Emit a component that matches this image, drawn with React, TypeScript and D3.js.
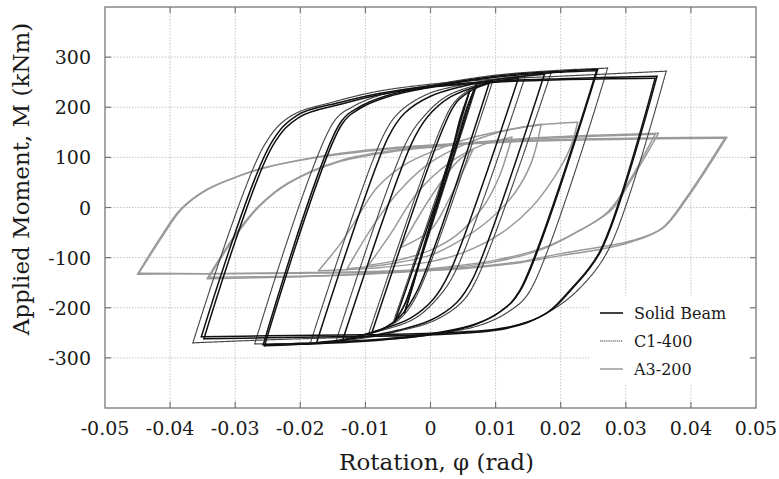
import React from "react";
import * as d3 from "d3";

type Pt = [number, number];

// x: rotation (rad), y: moment (kNm)
const xTicks = [-0.05, -0.04, -0.03, -0.02, -0.01, 0, 0.01, 0.02, 0.03, 0.04, 0.05];
const xTickLabels = ["-0.05", "-0.04", "-0.03", "-0.02", "-0.01", "0", "0.01", "0.02", "0.03", "0.04", "0.05"];
const yTicks = [-300, -200, -100, 0, 100, 200, 300];
const yTickLabels = ["-300", "-200", "-100", "0", "100", "200", "300"];

const seriesNames = ["Solid Beam", "C1-400", "A3-200"];

const solidBeamCycles: Pt[][] = [
  [[-0.0352,-258],[-0.0245,128],[-0.0205,184],[-0.0138,210],[-0.0077,228],[0,242],[0.01,252],[0.02,257],[0.0348,262],
   [0.0262,-86],[0.0215,-166],[0.0185,-205],[0.015,-228],[0.01,-243],[0,-251],[-0.01,-254],[-0.025,-256],[-0.0352,-258]],
  [[-0.0348,-262],[-0.0242,124],[-0.0202,180],[-0.0135,207],[-0.0075,226],[0,240],[0.01,250],[0.02,255],[0.0345,258],
   [0.026,-88],[0.0212,-168],[0.0182,-207],[0.0148,-230],[0.01,-245],[0,-254],[-0.01,-257],[-0.025,-260],[-0.0348,-262]],
  [[-0.0257,-274],[-0.0138,170],[-0.011,200],[-0.007,222],[0,242],[0.01,262],[0.02,272],[0.0257,276],
   [0.0138,-166],[0.011,-205],[0.007,-232],[0,-252],[-0.01,-265],[-0.02,-271],[-0.0257,-274]],
  [[-0.0255,-276],[-0.0136,166],[-0.0108,198],[-0.0068,220],[0,240],[0.01,260],[0.02,270],[0.0255,273],
   [0.0136,-168],[0.0108,-207],[0.0068,-234],[0,-254],[-0.01,-267],[-0.02,-273],[-0.0255,-276]],
  [[-0.0175,-270],[-0.0065,140],[-0.004,188],[0,222],[0.005,242],[0.01,255],[0.0175,266],
   [0.0065,-142],[0.004,-190],[0,-225],[-0.005,-245],[-0.01,-258],[-0.0175,-270]],
  [[-0.0135,-265],[-0.003,125],[-0.0005,180],[0.003,220],[0.008,245],[0.0135,258],
   [0.003,-128],[0.0005,-182],[-0.003,-220],[-0.008,-245],[-0.0135,-265]],
  [[-0.009,-250],[0.002,160],[0.004,210],[0.0065,235],[0.009,248],
   [-0.002,-165],[-0.0045,-215],[-0.0068,-238],[-0.009,-250]],
  [[-0.0055,-228],[0.0045,150],[0.0058,205],[0.007,245],
   [-0.0025,-140],[-0.004,-195],[-0.0055,-228]],
  [[-0.004,-210],[0.003,95],[0.0045,175],[0.006,232],
   [-0.001,-75],[-0.0028,-160],[-0.004,-210]],
];

const c1400Cycles: Pt[][] = [
  [[-0.0365,-270],[-0.0255,125],[-0.0215,182],[-0.0145,212],[-0.008,232],[0,246],[0.01,256],[0.02,262],[0.0362,272],
   [0.0275,-80],[0.023,-160],[0.019,-202],[0.015,-228],[0.01,-244],[0,-253],[-0.01,-258],[-0.025,-264],[-0.0365,-270]],
  [[-0.027,-272],[-0.0148,172],[-0.0118,202],[-0.0075,225],[0,244],[0.01,264],[0.02,274],[0.0272,278],
   [0.0152,-168],[0.0122,-206],[0.0078,-234],[0,-254],[-0.01,-266],[-0.02,-271],[-0.027,-272]],
  [[-0.0185,-272],[-0.0073,142],[-0.0048,190],[-0.0005,226],[0.005,245],[0.0105,257],[0.0185,268],
   [0.0072,-140],[0.0047,-190],[0.0005,-226],[-0.005,-247],[-0.011,-262],[-0.0185,-272]],
  [[-0.0145,-266],[-0.0038,128],[-0.001,182],[0.0025,222],[0.008,247],[0.0145,260],
   [0.0038,-128],[0.001,-182],[-0.0025,-222],[-0.008,-247],[-0.0145,-266]],
  [[-0.0095,-252],[0.0017,162],[0.0038,212],[0.0065,238],[0.0095,250],
   [-0.0018,-167],[-0.0043,-217],[-0.0068,-240],[-0.0095,-252]],
  [[-0.0058,-232],[0.0043,150],[0.0058,208],[0.0072,248],
   [-0.0025,-142],[-0.0042,-198],[-0.0058,-232]],
];

const a3200Cycles: Pt[][] = [
  [[-0.045,-133],[-0.0415,-60],[-0.0385,-5],[-0.0345,35],[-0.03,60],[-0.026,78],[-0.02,95],[-0.0138,108],[-0.005,120],
   [0.005,128],[0.015,134],[0.025,137],[0.035,139],[0.0455,140],
   [0.0395,20],[0.0358,-40],[0.031,-66],[0.0257,-80],[0.02,-92],[0.0138,-108],[0.005,-120],[-0.005,-126],[-0.02,-130],[-0.035,-132],[-0.045,-133]],
  [[-0.0448,-131],[-0.0412,-58],[-0.0382,-3],[-0.0342,36],[-0.0298,61],[-0.0258,78],[-0.02,94],[-0.0138,106],[-0.005,118],
   [0.005,126],[0.015,132],[0.025,135],[0.035,137],[0.0452,138],
   [0.0392,18],[0.0355,-42],[0.0305,-70],[0.025,-86],[0.02,-96],[0.0138,-110],[0.005,-122],[-0.005,-128],[-0.02,-131],[-0.035,-132],[-0.0448,-131]],
  [[-0.0343,-142],[-0.0303,-60],[-0.0266,0],[-0.022,48],[-0.0138,94],[-0.005,115],[0.005,128],[0.015,138],[0.025,144],[0.035,148],
   [0.0308,54],[0.0277,-6],[0.022,-52],[0.0174,-80],[0.01,-105],[0,-122],[-0.01,-132],[-0.02,-138],[-0.0343,-142]],
  [[-0.034,-139],[-0.03,-58],[-0.0263,2],[-0.0218,48],[-0.0138,92],[-0.005,113],[0.005,126],[0.015,136],[0.025,142],[0.0345,146],
   [0.0305,52],[0.0273,-8],[0.0218,-54],[0.017,-84],[0.01,-108],[0,-124],[-0.01,-133],[-0.02,-137],[-0.034,-139]],
  [[-0.0172,-126],[-0.014,-75],[-0.0118,-32],[-0.0082,40],[-0.004,85],[0,110],[0.006,138],[0.012,155],[0.017,165],[0.0226,170],
   [0.0215,120],[0.019,60],[0.0155,0],[0.011,-50],[0.005,-90],[0,-108],[-0.008,-120],[-0.0172,-126]],
  [[-0.0128,-122],[-0.009,-40],[-0.005,30],[0,90],[0.006,130],[0.012,155],[0.017,166],
   [0.0155,90],[0.013,30],[0.009,-25],[0.004,-70],[0,-95],[-0.006,-112],[-0.0128,-122]],
  [[-0.0095,-115],[-0.006,-50],[-0.002,30],[0.003,90],[0.008,125],[0.0125,140],
   [0.0105,60],[0.008,0],[0.004,-55],[0,-85],[-0.005,-105],[-0.0095,-115]],
  [[-0.0046,-80],[0,20],[0.004,90],[0.0065,115],
   [0.003,20],[0,-45],[-0.0046,-80]],
];

const W = 779;
const H = 479;
const L = 105, R = 756, T = 7, B = 408;
const FONT = "'DejaVu Serif', serif";

// split a closed loop at its rightmost point into two branches
function branches(c: Pt[]): Pt[][] {
  let k = 0;
  c.forEach((p, i) => {
    if (p[0] > c[k][0]) k = i;
  });
  return [c.slice(0, k + 1), c.slice(k)];
}

export default function App() {
  const x = d3.scaleLinear().domain([-0.05, 0.05]).range([L, R]);
  const y = d3.scaleLinear().domain([-400, 400]).range([B, T]);
  const line = d3
    .line<Pt>()
    .x((d) => x(d[0]))
    .y((d) => y(d[1]))
    .curve(d3.curveCatmullRom.alpha(0.5));

  const innerX = xTicks.slice(1, -1);

  const legendItems = [
    { name: seriesNames[0], stroke: "#111", dash: undefined as string | undefined, w: 1.6 },
    { name: seriesNames[1], stroke: "#333", dash: "1.2,0.9", w: 1.2 },
    { name: seriesNames[2], stroke: "#9a9a9a", dash: undefined as string | undefined, w: 1.5 },
  ];

  const draw = (cycles: Pt[][], key: string, stroke: string, w: number, dash?: string) =>
    cycles.map((c, i) =>
      branches(c).map((b, j) => (
        <path
          key={key + i + "_" + j}
          d={line(b) || ""}
          stroke={stroke}
          strokeWidth={w}
          strokeDasharray={dash}
        />
      ))
    );

  return (
    <svg width={W} height={H} style={{ position: "absolute", left: 0, top: 0, background: "#fff" }}>
      <rect x={0} y={0} width={W} height={H} fill="#fff" />
      {/* grid */}
      <g stroke="#c4c4c4" strokeWidth={1} strokeDasharray="1.5,1.5">
        {innerX.map((v) => (
          <line key={"gx" + v} x1={x(v)} x2={x(v)} y1={T} y2={B} />
        ))}
        {yTicks.map((v) => (
          <line key={"gy" + v} x1={L} x2={R} y1={y(v)} y2={y(v)} />
        ))}
      </g>
      {/* data */}
      <g fill="none" strokeLinejoin="round" strokeLinecap="round">
        {draw(a3200Cycles, "a", "#9a9a9a", 1.5)}
        {draw(c1400Cycles, "c", "#444", 1.2, "1.2,0.9")}
        {draw(solidBeamCycles, "s", "#111", 1.5)}
      </g>
      {/* legend */}
      <rect x={590} y={296} width={160} height={88} fill="#fff" />
      {legendItems.map((it, i) => {
        const cy = 313 + i * 28;
        return (
          <g key={it.name}>
            <line x1={600} x2={623} y1={cy} y2={cy} stroke={it.stroke} strokeWidth={it.w} strokeDasharray={it.dash} />
            <text x={634} y={cy + 6} fontFamily={FONT} fontSize={16} fill="#1a1a1a">
              {it.name}
            </text>
          </g>
        );
      })}
      {/* frame */}
      <rect x={L} y={T} width={R - L} height={B - T} fill="none" stroke="#777" strokeWidth={1.3} />
      <g stroke="#777" strokeWidth={1.2}>
        {innerX.map((v) => (
          <g key={"tx" + v}>
            <line x1={x(v)} x2={x(v)} y1={B} y2={B - 6} />
            <line x1={x(v)} x2={x(v)} y1={T} y2={T + 6} />
          </g>
        ))}
        {yTicks.map((v) => (
          <g key={"ty" + v}>
            <line x1={L} x2={L + 6} y1={y(v)} y2={y(v)} />
            <line x1={R} x2={R - 6} y1={y(v)} y2={y(v)} />
          </g>
        ))}
      </g>
      {/* tick labels */}
      <g fontFamily={FONT} fontSize={19} fill="#1a1a1a">
        {xTicks.map((v, i) => (
          <text key={"lx" + v} x={x(v)} y={435} textAnchor="middle">
            {xTickLabels[i]}
          </text>
        ))}
        {yTicks.map((v, i) => (
          <text key={"ly" + v} x={91} y={y(v) + 7} textAnchor="end">
            {yTickLabels[i]}
          </text>
        ))}
      </g>
      {/* axis titles */}
      <text x={(L + R) / 2 + 6} y={470} textAnchor="middle" fontFamily={FONT} fontSize={23} fill="#1a1a1a">
        Rotation, φ (rad)
      </text>
      <text
        transform={`translate(29,179) rotate(-90)`}
        textAnchor="middle"
        fontFamily={FONT}
        fontSize={23}
        fill="#1a1a1a"
      >
        Applied Moment, M (kNm)
      </text>
    </svg>
  );
}
